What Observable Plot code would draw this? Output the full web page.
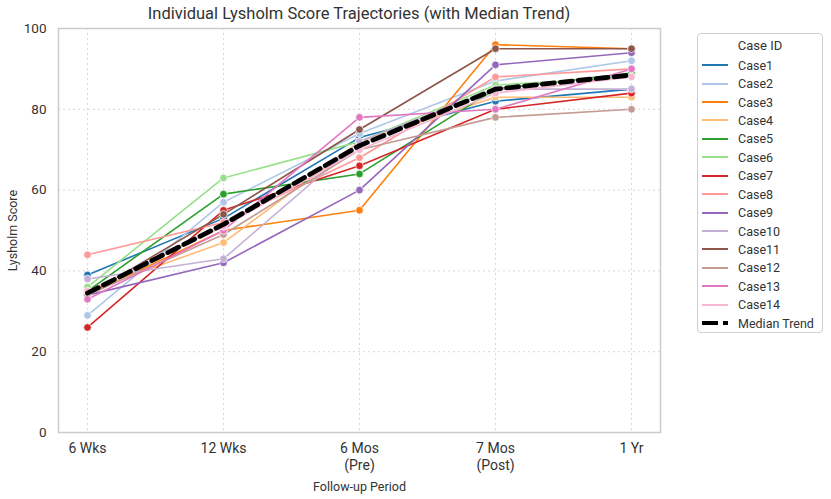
<!DOCTYPE html>
<html>
<head>
<meta charset="utf-8">
<script src="https://cdn.jsdelivr.net/npm/d3@7"></script>
<script src="https://cdn.jsdelivr.net/npm/@observablehq/plot@0.6"></script>
<style>
  html, body { margin: 0; padding: 0; background: #fff; }
  body { font-family: Roboto, "Noto Sans", sans-serif; color: #333; }
  #wrap { position: relative; width: 831px; height: 499px; overflow: hidden; }
  #title { position: absolute; left: 40px; width: 638px; top: 4px; text-align: center; font-size: 16.5px; color: #333; }
  #legend { position: absolute; left: 697px; top: 33px; width: 126px; height: 300px; border: 1px solid #d0d0d0; border-radius: 4px; box-sizing: border-box; background: #fff; }
  #legend .lt { text-align: center; font-size: 13px; margin-top: 4px; height: 18px; }
  #legend .row { display: flex; align-items: center; height: 18.43px; font-size: 12.5px; }
  #legend svg { margin-left: 4px; margin-right: 10px; }
</style>
</head>
<body>
<div id="wrap">
  <div id="chart"></div>
  <div id="title">Individual Lysholm Score Trajectories (with Median Trend)</div>
  <div id="legend"></div>
</div>
<script>
const periods = ["6 Wks", "12 Wks", "6 Mos (Pre)", "7 Mos (Post)", "1 Yr"];
const periodLabels = ["6 Wks", "12 Wks", "6 Mos\n(Pre)", "7 Mos\n(Post)", "1 Yr"];
const cases = ["Case1","Case2","Case3","Case4","Case5","Case6","Case7","Case8","Case9","Case10","Case11","Case12","Case13","Case14"];
const colors = ["#1f77b4","#aec7e8","#ff7f0e","#ffbb78","#2ca02c","#98df8a","#d62728","#ff9896","#9467bd","#c5b0d5","#8c564b","#c49c94","#e377c2","#f7b6d2"];
const case1 = [39, 53, 73, 82, 85];
const case2 = [29, 57, 74, 87, 92];
const case3 = [34, 50, 55, 96, 95];
const case4 = [35, 47, 72, 83, 83];
const case5 = [35, 59, 64, 85, 89];
const case6 = [36, 63, 72, 86, 88];
const case7 = [26, 55, 66, 80, 84];
const case8 = [44, 52, 68, 88, 90];
const case9 = [34, 42, 60, 91, 94];
const case10 = [38, 43, 72, 85, 85];
const case11 = [34, 54, 75, 95, 95];
const case12 = [34, 49, 70, 78, 80];
const case13 = [33, 50, 78, 80, 90];
const case14 = [35, 51, 70, 84, 88];
const yTicks = [0, 20, 40, 60, 80, 100];

const series = [case1, case2, case3, case4, case5, case6, case7, case8, case9, case10, case11, case12, case13, case14];
const data = [];
series.forEach((vals, i) => vals.forEach((v, j) => data.push({case: cases[i], period: periods[j], score: v})));
const median = periods.map((p, j) => ({period: p, score: d3.median(series, s => s[j])}));
const labelOf = Object.fromEntries(periods.map((p, i) => [p, periodLabels[i]]));

const chart = Plot.plot({
  width: 831,
  height: 499,
  marginLeft: 58,
  marginRight: 171,
  marginTop: 28,
  marginBottom: 67,
  style: {fontFamily: "Roboto, 'Noto Sans', sans-serif", fontSize: "13px", color: "#333", background: "transparent"},
  x: {type: "point", domain: periods, padding: 0.2},
  y: {domain: [0, 100]},
  color: {domain: cases, range: colors},
  marks: [
    Plot.gridX({stroke: "#d8d8d8", strokeOpacity: 1, strokeDasharray: "2,3"}),
    Plot.gridY(yTicks, {stroke: "#d8d8d8", strokeOpacity: 1, strokeDasharray: "2,3"}),
    Plot.frame({stroke: "#cccccc", strokeWidth: 1.5}),
    Plot.axisY(yTicks, {tickSize: 0, tickPadding: 12, fontSize: 13.5, label: null}),
    Plot.axisY(yTicks, {tickSize: 0, tickFormat: () => "", fontSize: 12.5, label: "Lysholm Score", labelAnchor: "center", labelArrow: "none", labelOffset: 50}),
    Plot.axisX({tickSize: 0, tickPadding: 9, fontSize: 14, lineHeight: 1.17, tickFormat: d => labelOf[d], label: null}),
    Plot.axisX({tickSize: 0, tickFormat: () => "", fontSize: 12.5, label: "Follow-up Period", labelAnchor: "center", labelArrow: "none", labelOffset: 58}),
    Plot.line(data, {x: "period", y: "score", z: "case", stroke: "case", strokeWidth: 1.6}),
    Plot.dot(data, {x: "period", y: "score", fill: "case", r: 3.8, stroke: "white", strokeWidth: 0.7}),
    Plot.line(median, {x: "period", y: "score", stroke: "black", strokeWidth: 4.8, strokeDasharray: "12,6"})
  ]
});
document.getElementById("chart").appendChild(chart);

const legend = document.getElementById("legend");
legend.innerHTML = '<div class="lt">Case ID</div>' +
  cases.map((c, i) => `<div class="row"><svg width="26" height="6"><line x1="0" x2="26" y1="3" y2="3" stroke="${colors[i]}" stroke-width="2"/></svg>${c}</div>`).join("") +
  `<div class="row"><svg width="26" height="6"><line x1="0" x2="26" y1="3" y2="3" stroke="black" stroke-width="4" stroke-dasharray="16,5"/></svg>Median Trend</div>`;
</script>
</body>
</html>
